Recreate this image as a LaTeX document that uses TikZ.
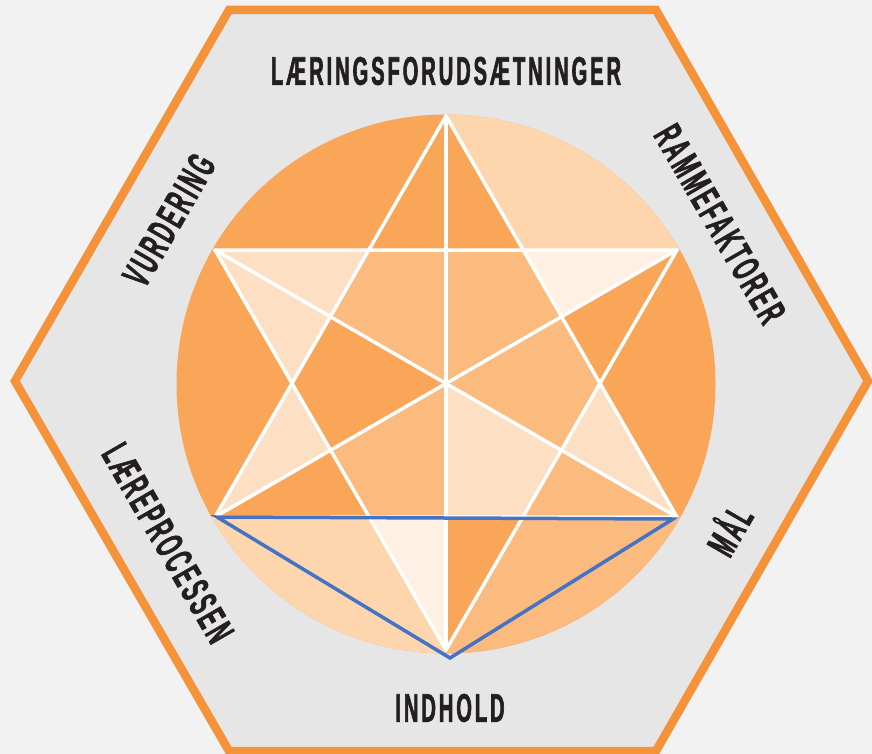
\documentclass[tikz,border=0pt]{standalone}
\usepackage{fontspec}
\newfontfamily\condfont[FakeStretch=0.5,FakeBold=1.5,LetterSpace=7.5]{Liberation Sans}
\definecolor{bgc}{HTML}{F2F2F2}
\definecolor{hexfill}{HTML}{E6E6E6}
\definecolor{hexline}{HTML}{F5933A}
\definecolor{dark}{HTML}{F9A659}
\definecolor{medium}{HTML}{FBBA7E}
\definecolor{peach}{HTML}{FDD6AE}
\definecolor{lpeach}{HTML}{FDE0C3}
\definecolor{cream}{HTML}{FEF0E3}
\definecolor{txt}{HTML}{231F20}
\definecolor{bluec}{HTML}{4472C4}
\tikzset{
  label/.style={text=txt,font=\condfont\bfseries\fontsize{40}{40}\selectfont,inner sep=0pt},
  whiteline/.style={draw=white,line width=3.5pt,line cap=round,line join=round},
  blueline/.style={draw=bluec,line width=3.5pt,line join=miter}
}
\begin{document}
\begin{tikzpicture}[x=1pt,y=-1pt]
\useasboundingbox (0,0) rectangle (872,754);
\fill[bgc] (0,0) rectangle (872,754);
% hexagon
\draw[hexline,line width=8.5pt,fill=hexfill,line join=miter]
  (15,381) -- (229,10) -- (656,10) -- (868,381) -- (656,751) -- (229,751) -- cycle;
% star geometry
\coordinate (C) at (446,383);
\coordinate (T) at (446,116);
\coordinate (B) at (446,650);
\coordinate (UL) at (215,250);
\coordinate (UR) at (677,250);
\coordinate (LL) at (215,517);
\coordinate (LR) at (677,517);
\coordinate (H1) at (369,250);
\coordinate (H2) at (523,250);
\coordinate (H3) at (600,383);
\coordinate (H4) at (523,517);
\coordinate (H5) at (369,517);
\coordinate (H6) at (292,383);
\coordinate (M12) at (446,250);
\coordinate (M23) at (561.5,316.5);
\coordinate (M34) at (561.5,449.5);
\coordinate (M45) at (446,517);
\coordinate (M56) at (330.5,449.5);
\coordinate (M61) at (330.5,316.5);
% circle base
\fill[dark] (446,384) circle[radius=269.5];
\begin{scope}
  \clip (446,384) circle[radius=269.5];
  \fill[peach] (T) -- (446,0) -- (872,0) -- (872,250) -- (UR) -- (H2) -- cycle;
  \fill[medium] (LR) -- (872,517) -- (872,754) -- (446,754) -- (B) -- (H4) -- cycle;
  \fill[peach] (LL) -- (H5) -- (B) -- (446,754) -- (0,754) -- (0,517) -- cycle;
\end{scope}
% star points
\fill[lpeach] (UL) -- (H1) -- (H6) -- cycle;
\fill[cream] (UR) -- (H2) -- (M23) -- cycle;
\fill[dark] (UR) -- (M23) -- (H3) -- cycle;
\fill[lpeach] (LR) -- (H3) -- (M34) -- cycle;
\fill[medium] (LR) -- (M34) -- (H4) -- cycle;
\fill[dark] (B) -- (M45) -- (H4) -- cycle;
\fill[cream] (B) -- (H5) -- (M45) -- cycle;
\fill[lpeach] (LL) -- (H6) -- (M56) -- cycle;
\fill[dark] (LL) -- (M56) -- (H5) -- cycle;
% inner kites
\fill[medium] (C) -- (M61) -- (H1) -- (M12) -- cycle;
\fill[medium] (C) -- (M12) -- (H2) -- (M23) -- cycle;
\fill[medium] (C) -- (M23) -- (H3) -- (M34) -- cycle;
\fill[lpeach] (C) -- (M34) -- (H4) -- (M45) -- cycle;
\fill[medium] (C) -- (M45) -- (H5) -- (M56) -- cycle;
\fill[dark] (C) -- (M56) -- (H6) -- (M61) -- cycle;
% white lines
\draw[whiteline] (T) -- (LL) -- (LR) -- cycle;
\draw[whiteline] (UL) -- (UR) -- (B) -- cycle;
\draw[whiteline] (T) -- (B);
\draw[whiteline] (UL) -- (LR);
\draw[whiteline] (UR) -- (LL);
% blue triangle
\coordinate (bL) at (217,517);
\coordinate (bR) at (673,519);
\coordinate (bB) at (450,658);
\draw[blueline] (bL) -- (bR) -- (bB) -- cycle;
% labels
\node[label] (lf) at (446,71) {LÆRINGSFORUDSÆTNINGER};
\node[label] (ind) at (450,708) {INDHOLD};
\node[label,rotate=60] (vur) at (169,220) {VURDERING};
\node[label,rotate=-60] (ram) at (720,224) {RAMMEFAKTORER};
\node[label,rotate=-60] (lp) at (168,543) {LÆREPROCESSEN};
\node[label,rotate=60] (mal) at (727,529) {MÅL};
\end{tikzpicture}
\end{document}
